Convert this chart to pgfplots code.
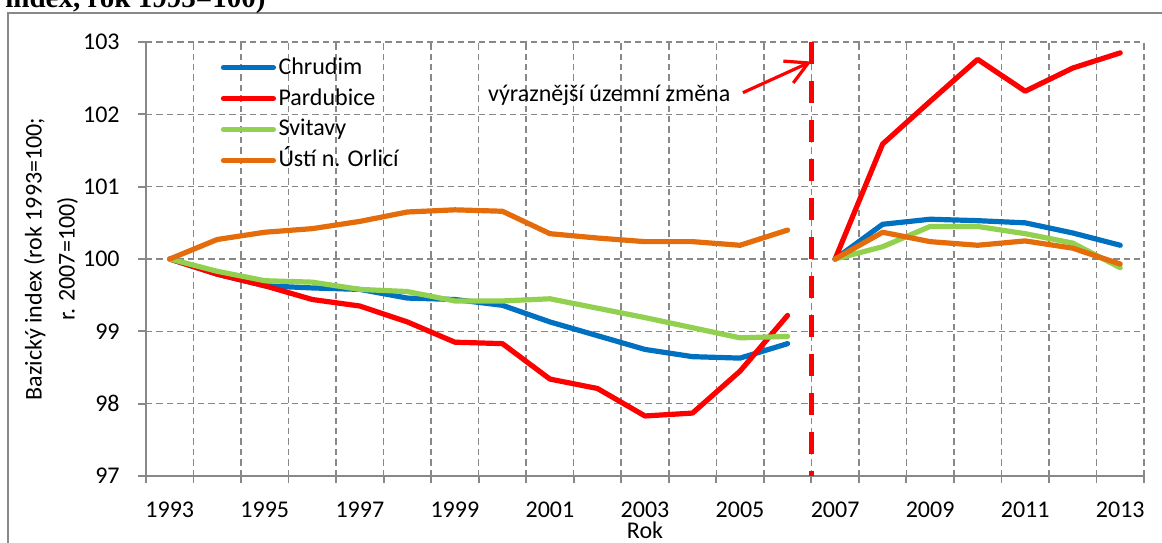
\documentclass[border=0pt]{standalone}
\usepackage{pgfplots}
\pgfplotsset{compat=1.18}
\usepackage{fontspec}
\setmainfont{Carlito}
\newfontfamily\titlefont{Liberation Serif}
\usetikzlibrary{arrows.meta}
\definecolor{cBlue}{HTML}{0070C0}
\definecolor{cRed}{HTML}{FF0000}
\definecolor{cGreen}{HTML}{92D050}
\definecolor{cOrange}{HTML}{E46C0A}
\definecolor{cGrid}{HTML}{888888}
\newcommand{\lblfont}{\fontsize{12}{15}\selectfont}
\begin{document}
\begin{tikzpicture}
\useasboundingbox (0,0) rectangle (581pt,-271pt);
\clip (0,0) rectangle (581pt,-271pt);
\draw[cGrid, line width=0.75pt] (4pt,-6.5pt) rectangle (620pt,-320pt);
\node[anchor=base west, inner sep=0pt, font=\titlefont\bfseries\fontsize{14.5}{16}\selectfont] at (2.5pt,-3.6pt) {index, rok 1993=100)};
\begin{axis}[
  scale only axis, width=499pt, height=217pt,
  at={(73pt,-238pt)}, anchor=south west,
  xmin=1992.5, xmax=2013.5, ymin=97, ymax=103,
  axis lines=left,
  axis line style={-, draw=cGrid, line width=0.9pt},
  xtick={1993,1995,...,2013},
  minor xtick={1992.5,1993.5,...,2013.5},
  ytick={97,98,...,103},
  major x tick style={draw=none},
  minor x tick style={draw=cGrid, line width=0.9pt},
  major y tick style={draw=cGrid, line width=0.9pt},
  tick align=outside,
  major tick length=4pt,
  minor tick length=3.5pt,
  xminorgrids=true, xmajorgrids=false, ymajorgrids=true,
  minor x grid style={cGrid, line width=0.75pt, dash pattern=on 3.2pt off 2pt},
  major y grid style={cGrid, line width=0.75pt, dash pattern=on 3.2pt off 2pt},
  /pgf/number format/assume math mode=true,
  /pgf/number format/1000 sep={},
  tick label style={font=\lblfont},
  yticklabel style={anchor=east, inner sep=0pt, xshift=-9pt},
  xticklabel style={anchor=base, inner sep=0pt, yshift=-16.5pt},
  xlabel={Rok},
  xlabel style={at={(axis description cs:0.5,0)}, anchor=base, yshift=-31pt, font=\lblfont, inner sep=0pt},
  ylabel={Bazický index (rok 1993=100;\\ r. 2007=100)},
  ylabel style={at={(axis description cs:-0.0952,0.5)}, anchor=center, align=center, font=\fontsize{12}{16.5}\selectfont},
  legend style={draw=none, fill=none, at={(axis description cs:0.0746,0.971)}, anchor=north west,
    font=\lblfont, row sep=3pt, inner sep=0pt, legend cell align=left,
    nodes={inner xsep=1.25pt, inner ysep=0pt, text height=9.5pt, text depth=3pt}},
  legend image code/.code={\draw[#1] (0pt,0pt) -- (25pt,0pt);},
  every axis plot/.append style={line width=2.6pt, line join=round, line cap=round},
]
% Chrudim
\addplot[cBlue] coordinates {(1993,100) (1994,99.79) (1995,99.63) (1996,99.60) (1997,99.58) (1998,99.46) (1999,99.44) (2000,99.36) (2001,99.13) (2002,98.94) (2003,98.75) (2004,98.65) (2005,98.63) (2006,98.83)};
\addlegendentry{Chrudim}
% Pardubice
\addplot[cRed] coordinates {(1993,100) (1994,99.79) (1995,99.63) (1996,99.44) (1997,99.35) (1998,99.13) (1999,98.85) (2000,98.83) (2001,98.34) (2002,98.21) (2003,97.83) (2004,97.87) (2005,98.45) (2006,99.22)};
\addlegendentry{Pardubice}
% Svitavy
\addplot[cGreen] coordinates {(1993,100) (1994,99.83) (1995,99.70) (1996,99.68) (1997,99.58) (1998,99.55) (1999,99.42) (2000,99.42) (2001,99.45) (2002,99.32) (2003,99.19) (2004,99.05) (2005,98.91) (2006,98.93)};
\addlegendentry{Svitavy}
% Usti n. Orlici
\addplot[cOrange] coordinates {(1993,100) (1994,100.27) (1995,100.37) (1996,100.42) (1997,100.52) (1998,100.65) (1999,100.68) (2000,100.66) (2001,100.35) (2002,100.29) (2003,100.24) (2004,100.24) (2005,100.19) (2006,100.40)};
\addlegendentry{Ústí n. Orlicí}
% second period (2007=100)
\addplot[cBlue, forget plot] coordinates {(2007,100) (2008,100.48) (2009,100.55) (2010,100.53) (2011,100.50) (2012,100.36) (2013,100.19)};
\addplot[cRed, forget plot] coordinates {(2007,100) (2008,101.59) (2009,102.18) (2010,102.76) (2011,102.32) (2012,102.64) (2013,102.85)};
\addplot[cGreen, forget plot] coordinates {(2007,100) (2008,100.17) (2009,100.45) (2010,100.45) (2011,100.35) (2012,100.22) (2013,99.88)};
\addplot[cOrange, forget plot] coordinates {(2007,100) (2008,100.37) (2009,100.24) (2010,100.19) (2011,100.25) (2012,100.15) (2013,99.93)};
% territorial change marker
\addplot[cRed, line width=2.8pt, line cap=butt, dash pattern=on 11pt off 8.5pt, forget plot] coordinates {(2006.5,103) (2006.5,97)};
\draw[cRed, line width=1.6pt, -{Straight Barb[length=11pt, width=12pt]}] (axis cs:2005.06,102.30) -- (axis cs:2006.50,102.73);
\node[anchor=base west, inner sep=0pt, font=\lblfont] at (axis cs:1999.69,102.18) {výraznější územní změna};
\end{axis}
\end{tikzpicture}
\end{document}
